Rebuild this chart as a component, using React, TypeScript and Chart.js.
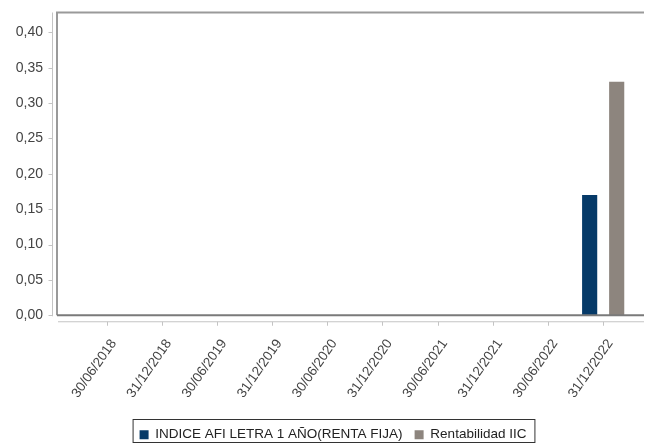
import React, { useEffect, useRef } from 'react';
import { Chart, registerables } from 'chart.js';

Chart.register(...registerables);

const categories = [
  '30/06/2018', '31/12/2018', '30/06/2019', '31/12/2019', '30/06/2020',
  '31/12/2020', '30/06/2021', '31/12/2021', '30/06/2022', '31/12/2022',
];
const indiceAfi = [0, 0, 0, 0, 0, 0, 0, 0, 0, 0.17];
const rentabilidadIIC = [0, 0, 0, 0, 0, 0, 0, 0, 0, 0.33];
const yTicks = [0, 0.05, 0.1, 0.15, 0.2, 0.25, 0.3, 0.35, 0.4];
const seriesNames = ['INDICE AFI LETRA 1 AÑO(RENTA FIJA)', 'Rentabilidad IIC'];
const seriesColors = ['#063a68', '#8d857e'];

const framePlugin = {
  id: 'framePlugin',
  afterLayout(chart: any) {
    if (chart.legend) chart.legend.left += 22;
  },
  afterDraw(chart: any) {
    const { ctx, chartArea } = chart;
    const { left, right, top, bottom } = chartArea;
    ctx.save();
    // plot frame
    ctx.strokeStyle = '#9a9a9a';
    ctx.lineWidth = 2;
    ctx.beginPath();
    ctx.moveTo(left, bottom);
    ctx.lineTo(left, top);
    ctx.lineTo(right, top);
    ctx.stroke();
    ctx.strokeStyle = '#7a7a7a';
    ctx.beginPath();
    ctx.moveTo(left, bottom);
    ctx.lineTo(right, bottom);
    ctx.stroke();
    // detached axes
    ctx.strokeStyle = '#c4c4c4';
    ctx.lineWidth = 1;
    const yAx = left - 4.5;
    ctx.beginPath();
    ctx.moveTo(yAx, top);
    ctx.lineTo(yAx, bottom + 1);
    ctx.stroke();
    const ys = chart.scales.y;
    ys.ticks.forEach((t: any) => {
      const py = Math.round(ys.getPixelForValue(t.value)) + 0.5;
      ctx.beginPath();
      ctx.moveTo(yAx - 4, py);
      ctx.lineTo(yAx, py);
      ctx.stroke();
    });
    const xAy = bottom + 6.5;
    ctx.beginPath();
    ctx.moveTo(left + 1, xAy);
    ctx.lineTo(right, xAy);
    ctx.stroke();
    const xs = chart.scales.x;
    xs.ticks.forEach((t: any) => {
      const px = Math.round(xs.getPixelForValue(t.value)) + 0.5;
      ctx.beginPath();
      ctx.moveTo(px, xAy);
      ctx.lineTo(px, xAy + 4);
      ctx.stroke();
    });
    // legend border
    const lg = chart.legend;
    if (lg && lg.legendHitBoxes && lg.legendHitBoxes.length) {
      const hb = lg.legendHitBoxes;
      const first = hb[0];
      const last = hb[hb.length - 1];
      const cy = first.top + first.height / 2;
      const x0 = first.left - 6.5;
      const x1 = last.left + last.width + 8.5;
      ctx.strokeStyle = '#333';
      ctx.lineWidth = 1;
      ctx.strokeRect(x0, Math.round(cy - 15.5) + 0.5, x1 - x0, 23);
    }
    ctx.restore();
  },
};

export default function App() {
  const ref = useRef<HTMLCanvasElement>(null);
  useEffect(() => {
    if (!ref.current) return;
    const chart = new Chart(ref.current, {
      type: 'bar',
      data: {
        datasets: [
          {
            label: seriesNames[0],
            data: categories.map((_, i) => ({ x: i, y: indiceAfi[i] })),
            backgroundColor: seriesColors[0],
            borderWidth: 0,
          },
          {
            label: seriesNames[1],
            data: categories.map((_, i) => ({ x: i, y: rentabilidadIIC[i] })),
            backgroundColor: seriesColors[1],
            borderWidth: 0,
          },
        ],
      },
      options: {
        responsive: false,
        animation: false,
        datasets: { bar: { categoryPercentage: 0.98, barPercentage: 0.56 } },
        layout: { padding: { left: 0, right: 1, top: 12.5, bottom: -8.5 } },
        plugins: {
          tooltip: { enabled: false },
          legend: {
            position: 'bottom',
            labels: {
              boxWidth: 9,
              boxHeight: 9,
              padding: 12,
              color: '#222',
              font: { family: '"Liberation Sans", Arial, sans-serif', size: 13.5 },
            },
          },
        },
        scales: {
          x: {
            type: 'linear',
            offset: false,
            min: -0.9,
            max: 9.74,
            grid: { display: false, drawTicks: false, offset: false },
            border: { display: false },
            afterBuildTicks: (s: any) => {
              s.ticks = categories.map((_, i) => ({ value: i }));
            },
            afterFit: (s: any) => {
              s.height = 100.75;
              s.paddingLeft = 0;
              s.paddingRight = 0;
            },
            ticks: {
              autoSkip: false,
              minRotation: 55,
              maxRotation: 55,
              padding: 21,
              labelOffset: 7,
              color: '#444',
              font: { family: '"Liberation Sans", Arial, sans-serif', size: 13.5 },
              callback: (v: any) => categories[Math.round(Number(v))] ?? '',
            },
          },
          y: {
            min: 0,
            max: 0.428,
            grid: { display: false, drawTicks: false },
            border: { display: false },
            afterBuildTicks: (s: any) => {
              s.ticks = yTicks.map((v) => ({ value: v }));
            },
            afterFit: (s: any) => {
              s.width = 57;
              s.paddingTop = 0;
              s.paddingBottom = 0;
            },
            ticks: {
              padding: 14,
              color: '#444',
              font: { family: '"Liberation Sans", Arial, sans-serif', size: 14 },
              callback: (v: any) => Number(v).toFixed(2).replace('.', ','),
            },
          },
        },
      },
      plugins: [framePlugin],
    });
    return () => chart.destroy();
  }, []);
  return (
    <div style={{ position: 'absolute', left: 0, top: 0, width: 645, height: 443, background: '#fff' }}>
      <canvas ref={ref} width={645} height={443} style={{ display: 'block' }} />
    </div>
  );
}
